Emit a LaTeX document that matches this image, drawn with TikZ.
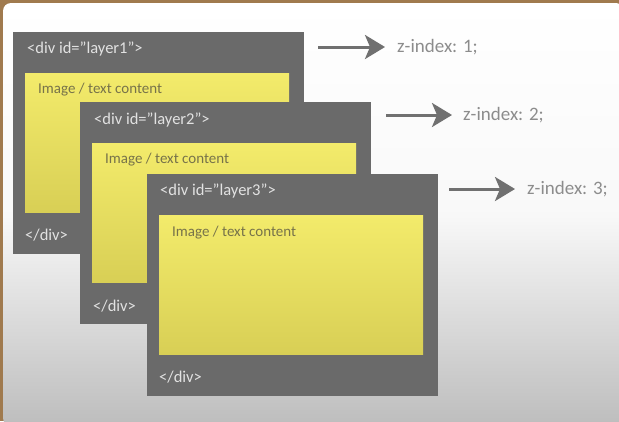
\documentclass[tikz,border=0pt]{standalone}
\usepackage{fontspec}
\setmainfont{Carlito}
\usetikzlibrary{arrows.meta}
\definecolor{frame}{HTML}{A07A4E}
\definecolor{boxgrey}{HTML}{6A6A6A}
\definecolor{yeltop}{HTML}{F3EB6B}
\definecolor{yelbot}{HTML}{D8CF55}
\definecolor{bgbot}{HTML}{BDBDBD}
\definecolor{tagtext}{HTML}{E2E2E2}
\definecolor{contenttext}{HTML}{77734A}
\definecolor{ztext}{HTML}{8C8C8C}
\definecolor{arrowgrey}{HTML}{707070}
\tikzset{
  layerbox/.style={rectangle, fill=boxgrey, draw=none, anchor=north west,
    minimum width=291pt, minimum height=222pt, inner sep=0pt},
  yellowbox/.style={rectangle, top color=yeltop, bottom color=yelbot, draw=none,
    anchor=north west, minimum width=264pt, minimum height=139pt, inner sep=0pt},
  tagtxt/.style={anchor=west, inner sep=0pt, text=tagtext, font=\fontsize{16.5}{18}\selectfont},
  contenttxt/.style={anchor=west, inner sep=0pt, text=contenttext, font=\fontsize{15}{17}\selectfont},
  ztxt/.style={anchor=west, inner sep=0pt, text=ztext, font=\fontsize{19}{21}\selectfont},
  zarrow/.style={draw=arrowgrey, line width=3pt,
    -{Stealth[length=20pt,width=24pt,inset=5pt]}},
}
\begin{document}
\begin{tikzpicture}[x=1pt,y=-1pt]
\useasboundingbox (0,0) rectangle (619,421);
% video frame and slide
\fill[frame] (0,0) rectangle (619,421);
\shade[top color=white, bottom color=bgbot, middle color=white!90!bgbot, rounded corners=8pt]
  (3,3) rectangle (624,426);

% layer 1
\node[layerbox] (l1) at (13,32) {};
\node[yellowbox] (y1) at (25,73) {};
\node[tagtxt] (t1) at (27,49) {<div id="layer1">};
\node[contenttxt] (c1) at (38,90) {Image / text content};
\node[tagtxt] (e1) at (25,235) {</div>};

% layer 2
\node[layerbox] (l2) at (80,102) {};
\node[yellowbox] (y2) at (92,143) {};
\node[tagtxt] (t2) at (94,120) {<div id="layer2">};
\node[contenttxt] (c2) at (105,160) {Image / text content};
\node[tagtxt] (e2) at (93,306) {</div>};

% layer 3
\node[layerbox] (l3) at (147,174) {};
\node[yellowbox] (y3) at (159,215) {};
\node[tagtxt] (t3) at (160,191) {<div id="layer3">};
\node[contenttxt] (c3) at (172,233) {Image / text content};
\node[tagtxt] (e3) at (159,377) {</div>};

% z-index labels
\node[ztxt] (z1) at (397,47) {z-index: 1;};
\node[ztxt] (z2) at (463,115) {z-index: 2;};
\node[ztxt] (z3) at (527,189) {z-index: 3;};
\coordinate (a1) at (318,47);
\coordinate (a2) at (386,115);
\coordinate (a3) at (449,189);
\draw[zarrow] (a1) -- ([xshift=-12pt]z1.west);
\draw[zarrow] (a2) -- ([xshift=-11pt]z2.west);
\draw[zarrow] (a3) -- ([xshift=-12pt]z3.west);
\end{tikzpicture}
\end{document}
